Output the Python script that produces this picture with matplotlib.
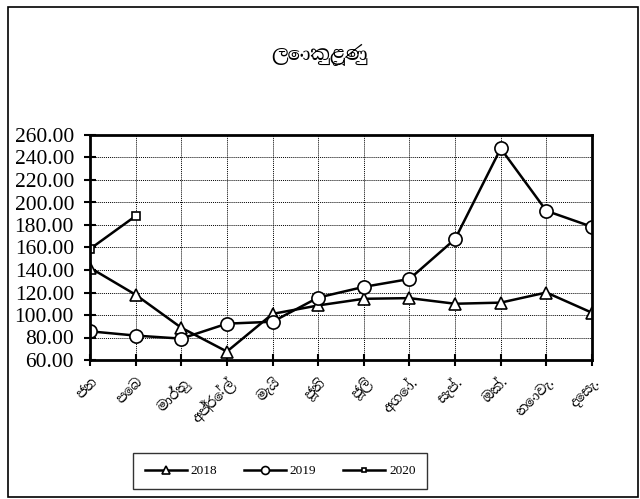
import matplotlib
matplotlib.use("Agg")
import matplotlib.pyplot as plt
from matplotlib import font_manager
import numpy as np

months = ['ජන', 'පෙබ', 'මාර්තු', 'අප්‍රේල්', 'මැයි', 'ජූනි', 'ජූලි',
          'අගෝ.', 'සැප්.', 'ඔක්.', 'නොවැ.', 'දෙසැ.']
y2018 = [142, 118, 88.7, 67.5, 101, 108.5, 114.4, 115, 110, 111, 120, 102]
y2019 = [85.5, 81.7, 79, 92.3, 94, 115.5, 125, 132, 167.5, 248, 192.6, 178.4]
y2020 = [158.7, 188]
title = 'ලොකුළූණු'

# look for anything that can draw Sinhala, else fall back to serif
names = set(f.name for f in font_manager.fontManager.ttflist)
sinhala = [n for n in names if 'Sinhala' in n or 'Iskoola' in n]
sin_fams = sinhala + ['Liberation Serif', 'DejaVu Serif']
num_fams = ['Liberation Serif', 'DejaVu Serif']
plt.rcParams['font.family'] = num_fams

fig = plt.figure(figsize=(6.4, 4.99), dpi=100)
ax = fig.add_axes([90/640, 1-360/499, (592-90)/640, (360-135)/499])

x = np.arange(len(months))
ax.plot(x, y2018, color='black', lw=1.8, marker='^', ms=9, mfc='white', mec='black', mew=1.2, label='2018')
ax.plot(x, y2019, color='black', lw=1.8, marker='o', ms=9.5, mfc='white', mec='black', mew=1.2, label='2019')
ax.plot(x[:len(y2020)], y2020, color='black', lw=1.8, marker='s', ms=6, mfc='white', mec='black', mew=1.2, label='2020')

ax.set_xlim(0, len(months)-1)
ax.set_ylim(60, 260)
ax.set_yticks(np.arange(60, 261, 20))
ax.set_yticklabels([f'{v:.2f}' for v in np.arange(60, 261, 20)], fontsize=15.5, family=num_fams)
ax.set_xticks(x)
ax.set_xticklabels(months, rotation=45, ha='right', rotation_mode='anchor', fontsize=10, family=sin_fams)
ax.tick_params(axis='both', direction='inout', length=9, width=1.5, colors='black')
ax.tick_params(axis='x', pad=6)
ax.tick_params(axis='y', pad=7)
ax.grid(True, color='black', ls=(0, (1, 1)), lw=0.7)
for s in ax.spines.values():
    s.set_linewidth(2)

fig.text(0.5, 1-55/499, title, ha='center', va='center', fontsize=14, fontweight='bold', family=sin_fams)

leg = fig.legend(loc='center', bbox_to_anchor=(280/640, 1-471/499), ncol=3,
                 prop={'family': num_fams, 'size': 9.5}, markerscale=0.6,
                 frameon=True, fancybox=False, edgecolor='black', borderpad=0.9,
                 handlelength=3.2, handletextpad=0.3, columnspacing=2.0)
leg.get_frame().set_linewidth(1)

fig.patches.append(plt.Rectangle((8/640, 2/499), 630/640, 490/499, transform=fig.transFigure,
                                 fill=False, edgecolor='black', lw=1.2))

fig.savefig('out.png', dpi=100)
